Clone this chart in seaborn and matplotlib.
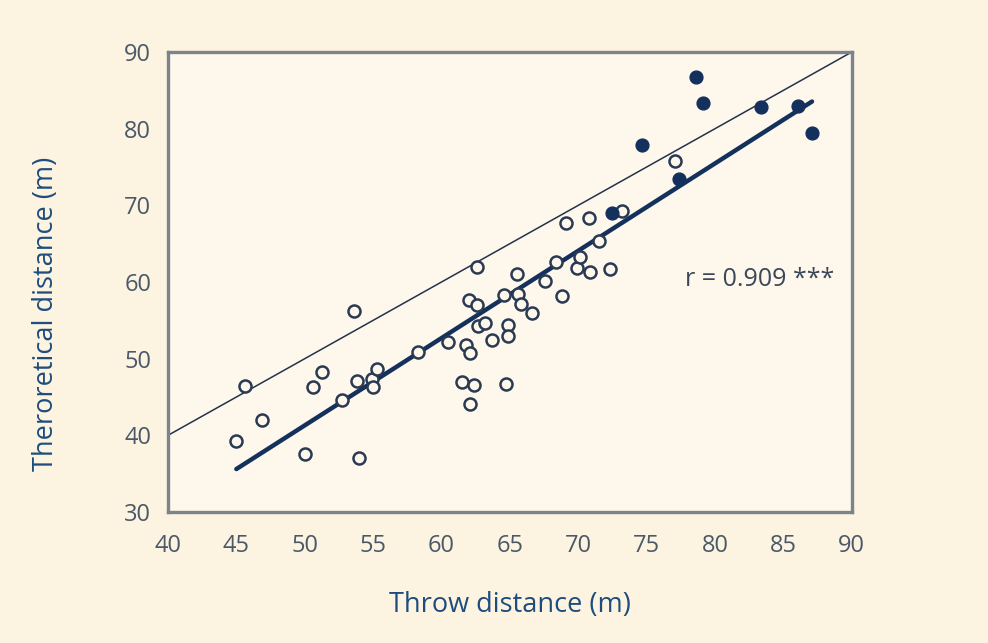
import numpy as np
import pandas as pd
import matplotlib
matplotlib.use('Agg')
import matplotlib.pyplot as plt
import seaborn as sns

# open circles: throw distance vs theoretical distance
open_x = [45.0, 45.6, 46.9, 50.0, 50.6, 51.3, 52.7, 53.6, 53.8, 54.0, 54.9, 55.0, 55.3,
          58.3, 60.5, 61.5, 61.8, 62.0, 62.1, 62.1, 62.4, 62.6, 62.6, 62.7, 63.2, 63.7,
          64.6, 64.7, 64.9, 64.9, 65.5, 65.6, 65.8, 66.6, 67.6, 68.4, 68.8, 69.1, 69.9,
          70.1, 70.8, 70.9, 71.5, 72.3, 73.2, 77.1]
open_y = [39.2, 46.5, 42.0, 37.6, 46.3, 48.3, 44.6, 56.2, 47.1, 37.0, 47.4, 46.3, 48.7,
          50.9, 52.2, 47.0, 51.8, 57.6, 50.7, 44.1, 46.6, 57.0, 61.9, 54.3, 54.6, 52.4,
          58.3, 46.7, 54.4, 53.0, 61.0, 58.5, 57.1, 55.9, 60.2, 62.6, 58.2, 67.7, 61.8,
          63.3, 68.4, 61.3, 65.3, 61.7, 69.3, 75.8]

# filled circles
filled_x = [72.5, 74.7, 77.4, 78.6, 79.1, 83.4, 86.1, 87.1]
filled_y = [69.0, 77.9, 73.5, 86.7, 83.4, 82.9, 83.0, 79.4]

x_ticks = [40, 45, 50, 55, 60, 65, 70, 75, 80, 85, 90]
y_ticks = [30, 40, 50, 60, 70, 80, 90]

df = pd.DataFrame({'throw': open_x + filled_x, 'theory': open_y + filled_y})

sns.set_style('white')
plt.rcParams['font.family'] = ['Open Sans', 'DejaVu Sans']

navy = '#14305c'
fig = plt.figure(figsize=(9.88, 6.43), dpi=100, facecolor='#fcf3e0')
ax = fig.add_axes([0.170, 0.2037, 0.692, 0.7153])
ax.set_facecolor('#fef8ec')

# identity line
ax.plot([40, 90], [40, 90], color='#24324a', lw=1.1, zorder=1)

# regression line
sns.regplot(data=df, x='throw', y='theory', scatter=False, ci=None, truncate=True,
            line_kws={'color': navy, 'lw': 3.2, 'zorder': 2}, ax=ax)

sns.scatterplot(x=open_x, y=open_y, ax=ax, marker='o', s=75, facecolor='#fef8ec',
                edgecolor='#2a3a52', linewidth=1.8, zorder=3)
sns.scatterplot(x=filled_x, y=filled_y, ax=ax, marker='o', s=85, color=navy,
                edgecolor=navy, linewidth=1, zorder=4)

ax.text(77.8, 60.3, 'r = 0.909 ***', fontsize=18, color='#3c4858', va='center')

ax.set_xlim(40, 90)
ax.set_ylim(30, 90)
ax.set_xticks(x_ticks)
ax.set_yticks(y_ticks)
ax.tick_params(direction='in', length=5, width=1.3, colors='#6f7780',
               labelcolor='#4a5868', labelsize=17, pad=16)
ax.tick_params(axis='y', pad=12)
for sp in ax.spines.values():
    sp.set_color('#7c838c')
    sp.set_linewidth(2.4)

ax.set_xlabel('Throw distance (m)', fontsize=19.5, color='#1d4d7e')
ax.set_ylabel('Theroretical distance (m)', fontsize=19.5, color='#1d4d7e')
ax.xaxis.set_label_coords(0.5, -0.172)
ax.yaxis.set_label_coords(-0.158, 0.43)

fig.savefig('out.png', dpi=100, facecolor=fig.get_facecolor())
